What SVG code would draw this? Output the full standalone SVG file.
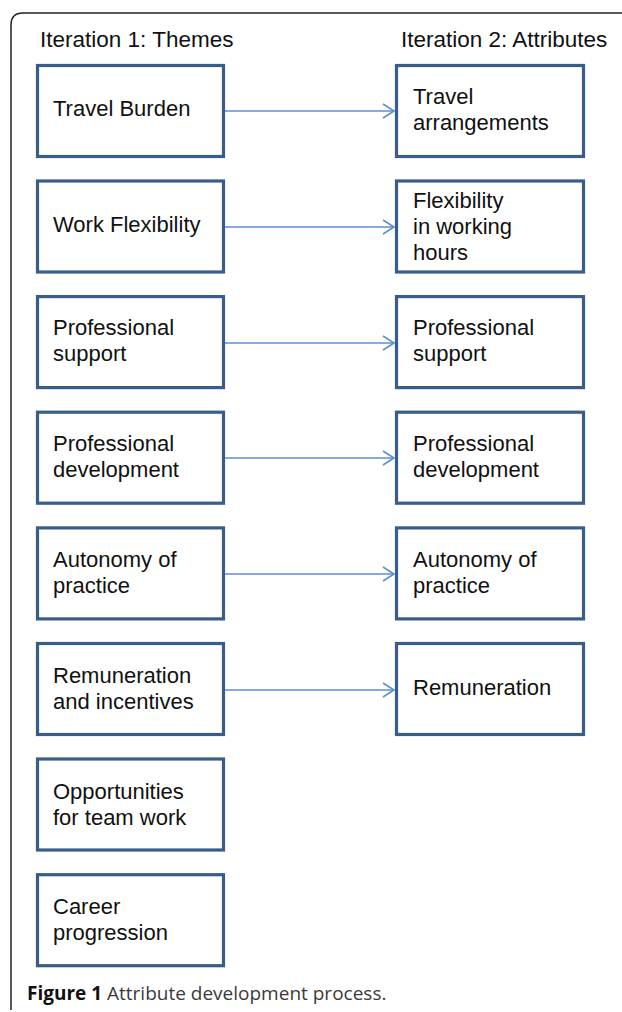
<svg xmlns="http://www.w3.org/2000/svg" width="622" height="1012" viewBox="0 0 622 1012">
<style>
.box{fill:#fff;stroke:#385D8A;stroke-width:3.2}
.t{font-family:"Liberation Sans",Arial,sans-serif;font-size:22px;fill:#111}
.h{font-family:"Liberation Sans",Arial,sans-serif;font-size:22.5px;fill:#111}
.c{stroke:#5B8ED6;stroke-width:1.6;fill:none}
.cap{font-family:"Open Sans",sans-serif;font-size:19px;fill:#3a3a3a}
</style>
<defs>
<marker id="ah" markerWidth="14" markerHeight="16" refX="12" refY="8" orient="auto" markerUnits="userSpaceOnUse">
<path d="M1,1 L12,8 L1,15" fill="none" stroke="#5B8ED6" stroke-width="1.6"/>
</marker>
</defs>
<rect width="622" height="1012" fill="#fff"/>
<path d="M11,1010 V25 Q11,13 23,13 H622" fill="none" stroke="#222" stroke-width="1.5"/>
<text class="h" x="40" y="47">Iteration 1: Themes</text>
<text class="h" x="401" y="47">Iteration 2: Attributes</text>

<g id="connectors">
<line class="c" x1="225" y1="111" x2="394" y2="111" marker-end="url(#ah)"/>
<line class="c" x1="225" y1="227" x2="394" y2="227" marker-end="url(#ah)"/>
<line class="c" x1="225" y1="343" x2="394" y2="343" marker-end="url(#ah)"/>
<line class="c" x1="225" y1="458" x2="394" y2="458" marker-end="url(#ah)"/>
<line class="c" x1="225" y1="574" x2="394" y2="574" marker-end="url(#ah)"/>
<line class="c" x1="225" y1="690" x2="394" y2="690" marker-end="url(#ah)"/>
</g>

<g id="l1"><rect class="box" x="37.5" y="65.5" width="186" height="91"/><text class="t" x="53" y="116">Travel Burden</text></g>
<g id="l2"><rect class="box" x="37.5" y="181" width="186" height="91"/><text class="t" x="53" y="232">Work Flexibility</text></g>
<g id="l3"><rect class="box" x="37.5" y="296.6" width="186" height="91"/><text class="t" x="53" y="335">Professional</text><text class="t" x="53" y="361">support</text></g>
<g id="l4"><rect class="box" x="37.5" y="412.2" width="186" height="91"/><text class="t" x="53" y="451">Professional</text><text class="t" x="53" y="477">development</text></g>
<g id="l5"><rect class="box" x="37.5" y="527.9" width="186" height="91"/><text class="t" x="53" y="567">Autonomy of</text><text class="t" x="53" y="593">practice</text></g>
<g id="l6"><rect class="box" x="37.5" y="643.5" width="186" height="91"/><text class="t" x="53" y="683">Remuneration</text><text class="t" x="53" y="709">and incentives</text></g>
<g id="l7"><rect class="box" x="37.5" y="759" width="186" height="91"/><text class="t" x="53" y="799">Opportunities</text><text class="t" x="53" y="825">for team work</text></g>
<g id="l8"><rect class="box" x="37.5" y="874.7" width="186" height="91"/><text class="t" x="53" y="914">Career</text><text class="t" x="53" y="940">progression</text></g>

<g id="r1"><rect class="box" x="396.5" y="65.5" width="187" height="91"/><text class="t" x="413" y="104">Travel</text><text class="t" x="413" y="130">arrangements</text></g>
<g id="r2"><rect class="box" x="396.5" y="181" width="187" height="91"/><text class="t" x="413" y="208">Flexibility</text><text class="t" x="413" y="234">in working</text><text class="t" x="413" y="260">hours</text></g>
<g id="r3"><rect class="box" x="396.5" y="296.6" width="187" height="91"/><text class="t" x="413" y="335">Professional</text><text class="t" x="413" y="361">support</text></g>
<g id="r4"><rect class="box" x="396.5" y="412.2" width="187" height="91"/><text class="t" x="413" y="451">Professional</text><text class="t" x="413" y="477">development</text></g>
<g id="r5"><rect class="box" x="396.5" y="527.9" width="187" height="91"/><text class="t" x="413" y="567">Autonomy of</text><text class="t" x="413" y="593">practice</text></g>
<g id="r6"><rect class="box" x="396.5" y="643.5" width="187" height="91"/><text class="t" x="413" y="695">Remuneration</text></g>

<text class="cap" x="27" y="1000"><tspan font-weight="bold" fill="#111">Figure 1</tspan> Attribute development process.</text>
</svg>
